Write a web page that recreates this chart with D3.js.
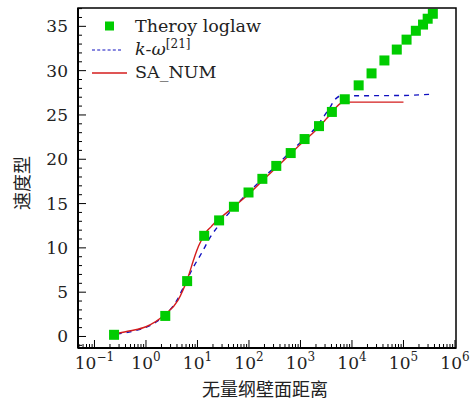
<!DOCTYPE html>
<html><head><meta charset="utf-8">
<script src="https://cdn.jsdelivr.net/npm/d3@7"></script>
<style>body{margin:0;background:#fff}svg{display:block}.sf{font-family:"DejaVu Serif",serif}.cjk{font-family:"Noto Sans CJK SC",sans-serif}</style>
</head><body>
<svg id="c" width="474" height="400"></svg>
<script>
// Theory loglaw points
const theoryX = [0.24, 2.37, 6.3, 13.5, 26.3, 51, 98, 182, 339, 646, 1202, 2291, 4074, 7244, 13490, 23990, 42660, 74130, 114800, 173800, 239900, 295100, 371500];
const theoryY = [0.19, 2.32, 6.25, 11.36, 13.1, 14.64, 16.25, 17.79, 19.25, 20.7, 22.28, 23.74, 25.34, 26.77, 28.34, 29.69, 31.15, 32.38, 33.5, 34.5, 35.2, 35.86, 36.42];
// k-omega [21]
const kwX = [0.27, 0.6, 1.27, 2.37, 4.0, 5.8, 8.1, 12, 17.7, 30, 60, 100, 300, 1000, 2000, 3500, 5000, 6000, 100000, 371500];
const kwY = [0.27, 0.64, 1.31, 2.44, 4.1, 6.0, 7.7, 9.4, 11.2, 13.0, 15.0, 16.3, 19.0, 21.9, 23.6, 25.6, 26.9, 27.15, 27.2, 27.35];
// SA_NUM
const saX = [0.26, 0.5, 1.0, 2.37, 4.2, 6.3, 8.8, 10.5, 12.9, 15, 18.5, 21, 25, 50, 100, 200, 500, 1000, 2000, 3000, 4000, 5000, 6000, 7500, 100000];
const saY = [0.34, 0.65, 1.1, 2.5, 4.1, 6.4, 9.0, 10.2, 11.23, 11.85, 12.4, 12.75, 13.15, 14.6, 16.1, 17.8, 20.0, 21.7, 23.3, 24.4, 25.2, 25.9, 26.3, 26.45, 26.45];
const yTicks = [0, 5, 10, 15, 20, 25, 30, 35];
const xTickExp = [-1, 0, 1, 2, 3, 4, 5, 6];
const legendLabels = ["Theroy loglaw", "k-ω", "SA_NUM"];
const xTitle = "无量纲壁面距离";
const yTitle = "速度型";

const svg = d3.select("#c");
const L = 78, R = 456, T = 8, B = 348;
const x = d3.scaleLog().domain([Math.pow(10, -1.32), Math.pow(10, 6.02)]).range([L, R]);
const y = d3.scaleLinear().domain([-1.3, 37.07]).range([B, T]);

svg.append("clipPath").attr("id","clip").append("rect").attr("x",L).attr("y",T).attr("width",R-L).attr("height",B-T);
const plot = svg.append("g").attr("clip-path","url(#clip)");

const kwData = kwX.map((v,i)=>[v,kwY[i]]);
const saData = saX.map((v,i)=>[v,saY[i]]);
const line = d3.line().x(d=>x(d[0])).y(d=>y(d[1])).curve(d3.curveMonotoneX);
plot.append("path").datum(kwData).attr("d",line).attr("fill","none").attr("stroke","#1010c0").attr("stroke-width",1.4).attr("stroke-dasharray","5,5");
plot.append("path").datum(saData).attr("d",line).attr("fill","none").attr("stroke","#d41c1c").attr("stroke-width",1.4);

const sq = 10;
plot.selectAll("rect.pt").data(theoryX.map((v,i)=>[v,theoryY[i]])).enter().append("rect")
  .attr("class","pt").attr("x",d=>x(d[0])-sq/2).attr("y",d=>y(d[1])-sq/2).attr("width",sq).attr("height",sq).attr("fill","#00cc00");

svg.append("rect").attr("x",L).attr("y",T).attr("width",R-L).attr("height",B-T).attr("fill","none").attr("stroke","#000").attr("stroke-width",1.5);
svg.append("line").attr("x1",L).attr("x2",L).attr("y1",T).attr("y2",B).attr("stroke","#000").attr("stroke-width",2);
svg.append("line").attr("x1",L).attr("x2",R).attr("y1",B).attr("y2",B).attr("stroke","#000").attr("stroke-width",2);

const yAx = svg.append("g");
d3.range(-1, 38).forEach(v=>{
  const major = v % 5 === 0;
  yAx.append("line").attr("x1",L).attr("x2",L+(major?8:4)).attr("y1",y(v)).attr("y2",y(v)).attr("stroke","#000").attr("stroke-width",1);
});
yAx.selectAll("text").data(yTicks).enter().append("text").attr("class","sf")
  .attr("x",L-10).attr("y",d=>y(d)).attr("dy","0.35em").attr("text-anchor","end")
  .attr("font-size",17).attr("fill","#222").text(d=>d);

const xAx = svg.append("g");
const [d0,d1] = x.domain();
for (let e=-2; e<=6; e++){
  for (let m=1; m<=9; m++){
    const v = m*Math.pow(10,e);
    if (v < d0 || v > d1*1.0001) continue;
    xAx.append("line").attr("x1",x(v)).attr("x2",x(v)).attr("y1",B).attr("y2",B-(m===1?8:4)).attr("stroke","#000").attr("stroke-width",1);
  }
}
xTickExp.forEach(e=>{
  const t = xAx.append("text").attr("class","sf").attr("x",x(Math.pow(10,e))).attr("y",369).attr("text-anchor","middle")
    .attr("font-size",17).attr("fill","#222");
  t.append("tspan").text("10");
  t.append("tspan").attr("font-size",12).attr("dy",-8).text(e<0 ? "−"+(-e) : String(e));
});

svg.append("text").attr("class","cjk").attr("x",265).attr("y",396).attr("text-anchor","middle")
  .attr("font-size",18).attr("fill","#222").text(xTitle);
svg.append("text").attr("class","cjk").attr("transform","translate(29,183) rotate(-90)").attr("text-anchor","middle")
  .attr("font-size",18).attr("fill","#222").text(yTitle);

const lg = svg.append("g");
lg.append("rect").attr("x",109.5-4.5).attr("y",26-4.5).attr("width",9).attr("height",9).attr("fill","#00cc00");
lg.append("text").attr("class","sf").attr("x",135).attr("y",32).attr("font-size",17.5).attr("fill","#222").text(legendLabels[0]);
lg.append("line").attr("x1",92).attr("x2",122).attr("y1",50).attr("y2",50).attr("stroke","#1010c0").attr("stroke-width",1.2).attr("stroke-dasharray","3,2.2");
const t2 = lg.append("text").attr("class","sf").attr("x",135).attr("y",55).attr("font-size",17.5).attr("fill","#222");
t2.append("tspan").attr("font-style","italic").text("k");
t2.append("tspan").text("-");
t2.append("tspan").attr("font-style","italic").text("ω");
t2.append("tspan").attr("font-size",12).attr("dy",-7).text("[21]");
lg.append("line").attr("x1",92).attr("x2",127).attr("y1",73).attr("y2",73).attr("stroke","#d41c1c").attr("stroke-width",1.4);
lg.append("text").attr("class","sf").attr("x",135).attr("y",78).attr("font-size",17.5).attr("fill","#222").text(legendLabels[2]);
</script>
</body></html>
